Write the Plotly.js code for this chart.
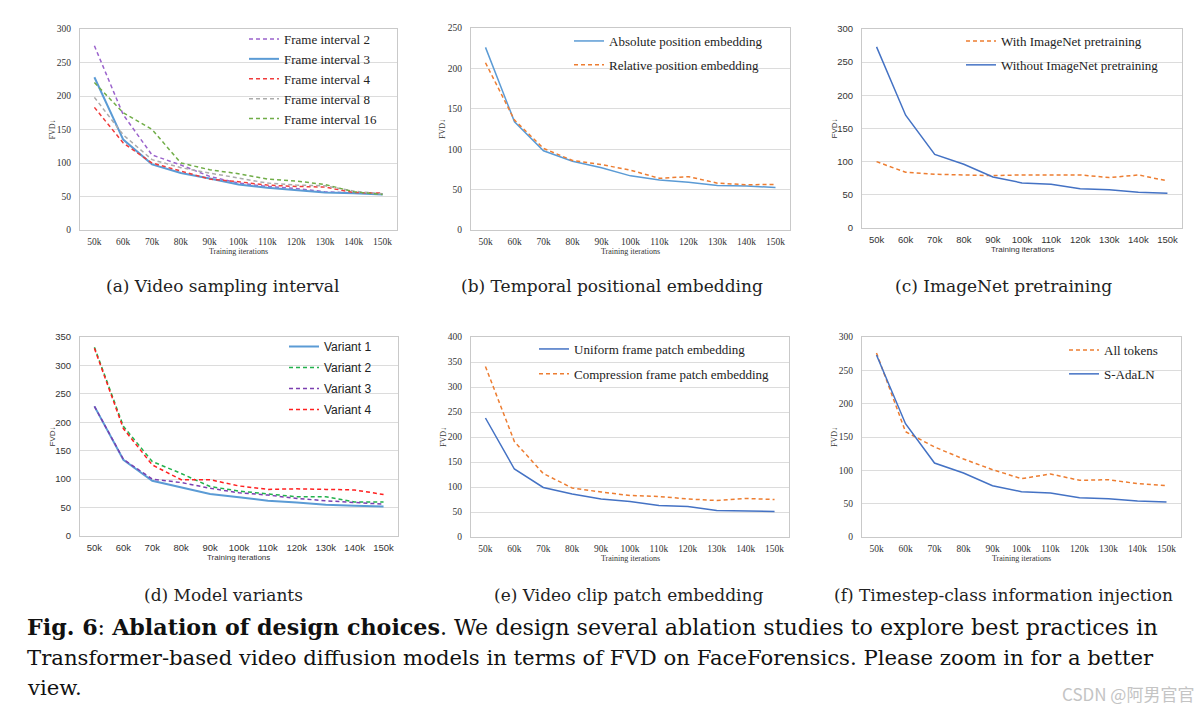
<!DOCTYPE html>
<html>
<head>
<meta charset="utf-8">
<script src="https://cdn.plot.ly/plotly-3.0.1.min.js"></script>
<style>html,body{margin:0;padding:0;background:#fff;}#chart{width:1203px;height:718px;}</style>
</head>
<body>
<div id="chart"></div>
<script>
// ---------- data ----------
const iterations = ['50k','60k','70k','80k','90k','100k','110k','120k','130k','140k','150k'];

// (a) Video sampling interval
const frameInterval2  = [275,172,112,97,80,70,65,62,57,56,54];
const frameInterval3  = [228,135,98,85,77,68,63,60,56,55,53];
const frameInterval4  = [183,130,100,88,76,72,67,65,64,56,55];
const frameInterval8  = [198,142,105,93,85,78,70,67,66,58,54];
const frameInterval16 = [220,175,150,100,90,84,76,73,68,57,53];

// (b) Temporal positional embedding
const absolutePos = [226,134,98,85,77,67,62,59,55,54.5,52.5];
const relativePos = [207,136,101,86,81,74,64,66,58,56,56.5];

// (c) ImageNet pretraining
const withImageNet    = [100,84,81,80,79,80,80,80,76,80,71];
const withoutImageNet = [273,170,111,96,77,68,66,59,57.5,54,52.5];

// (d) Model variants
const variant1 = [228,134,97,85,74,68,62,59,55,53,52];
const variant2 = [332,193,131,110,87,79,74,69,69,60,60];
const variant3 = [228,135,100,94,84,76,72,66,62,59,56];
const variant4 = [330,189,125,99,99,88,82,83,82,81,73];

// (e) Video clip patch embedding
const uniformPatch     = [238,136,99,86,76,71,63,61,53,52,51];
const compressionPatch = [341,191,127,98,90,83,81,76,73,77,75];

// (f) Timestep-class information injection
const allTokens = [276,158,135,117,101,87.5,94.5,85,86,80,77];
const sAdaLN    = [273,170,111,96,77,68,66,59,57.5,54,52.5];

const yMax = [300,250,300,350,400,300];
const subCaptions = ['(a) Video sampling interval','(b) Temporal positional embedding','(c) ImageNet pretraining',
                     '(d) Model variants','(e) Video clip patch embedding','(f) Timestep-class information injection'];

// ---------- layout helpers ----------
const W = 1203, H = 718;
const px = v => v / W;
const py = v => 1 - v / H;

// plot boxes in pixels [left,right,top,bottom]
const boxes = [
  [80,397,29,230],[471,790,28,230],[862,1182,29,228],
  [80,398,337,536],[471,789,337,537],[862,1181,337,537]
];
const capCenters = [222,612,1003,223,628,1003];
const serif = 'Liberation Serif, Times New Roman, serif';
const capSerif = 'DejaVu Serif, serif';
const sans = 'Liberation Sans, Arial, sans-serif';
const tickFonts = [serif,serif,sans,sans,serif,serif];

const DASH = '4px,3px';
const traces = [];
function addTrace(p, name, y, color, dash, width){
  const idx = p===0?'':String(p+1);
  traces.push({
    type:'scatter', mode:'lines', name:name, x:iterations, y:y,
    xaxis:'x'+idx, yaxis:'y'+idx, legend:'legend'+idx, legendgroup:name,
    line:{color:color, width:width||1.5, dash:dash?DASH:'solid'},
    hoverinfo:'skip'
  });
}
addTrace(0,'Frame interval 2',frameInterval2,'#9b63cc',true);
addTrace(0,'Frame interval 3',frameInterval3,'#5b9bd5',false,2);
addTrace(0,'Frame interval 4',frameInterval4,'#f03c3c',true);
addTrace(0,'Frame interval 8',frameInterval8,'#ababab',true);
addTrace(0,'Frame interval 16',frameInterval16,'#70ad47',true);

addTrace(1,'Absolute position embedding',absolutePos,'#5b9bd5',false);
addTrace(1,'Relative position embedding',relativePos,'#ed7d31',true);

addTrace(2,'With ImageNet pretraining',withImageNet,'#ed7d31',true);
addTrace(2,'Without ImageNet pretraining',withoutImageNet,'#4472c4',false);

addTrace(3,'Variant 1',variant1,'#5b9bd5',false,2);
addTrace(3,'Variant 2',variant2,'#22b14c',true);
addTrace(3,'Variant 3',variant3,'#7b3fb0',true);
addTrace(3,'Variant 4',variant4,'#ff2020',true);

addTrace(4,'Uniform frame patch embedding',uniformPatch,'#4472c4',false);
addTrace(4,'Compression frame patch embedding',compressionPatch,'#ed7d31',true);

addTrace(5,'All tokens',allTokens,'#ed7d31',true);
addTrace(5,'S-AdaLN',sAdaLN,'#4472c4',false);

const layout = {
  width:W, height:H, margin:{l:0,r:0,t:0,b:0},
  paper_bgcolor:'#fff', plot_bgcolor:'#fff', showlegend:true,
  annotations:[], shapes:[]
};

// legend positions [left px, top px, font, size, gap]
const legendPos = [
  [244,24,serif,13,0],[569,26,serif,13,4],[961,26,serif,13,4],
  [284,332,sans,12,2],[534,334,serif,13,5],[1064,335,serif,13,4]
];

for(let p=0;p<6;p++){
  const idx = p===0?'':String(p+1);
  const [l,r,t,b] = boxes[p];
  layout['xaxis'+idx] = {
    domain:[px(l),px(r)], anchor:'y'+idx, type:'category', range:[-0.5,10.5],
    showgrid:false, showline:true, linecolor:'#c9c9c9', linewidth:1, mirror:true,
    ticks:'', tickfont:{family:tickFonts[p], size:9.5, color:'#333'}, ticklabelstandoff:3,
    fixedrange:true
  };
  layout['yaxis'+idx] = {
    domain:[py(b),py(t)], anchor:'x'+idx, range:[0,yMax[p]], dtick:50,
    showgrid:true, gridcolor:'#dcdcdc', gridwidth:1, zeroline:false,
    showline:true, linecolor:'#c9c9c9', linewidth:1, mirror:true,
    ticks:'', tickfont:{family:tickFonts[p], size:9.5, color:'#333'}, ticklabelstandoff:6,
    fixedrange:true
  };
  const lp = legendPos[p];
  layout['legend'+idx] = {
    x:px(lp[0]), y:py(lp[1]), xanchor:'left', yanchor:'top',
    bgcolor:'rgba(0,0,0,0)', borderwidth:0,
    font:{family:lp[2], size:lp[3], color:'#222'},
    traceorder:'grouped', tracegroupgap:lp[4], itemclick:false, itemdoubleclick:false
  };
  // axis titles
  layout.annotations.push({
    xref:'paper', yref:'paper', x:px((l+r)/2), y:py(b+21), text:'Training iterations',
    showarrow:false, font:{family:tickFonts[p], size:8, color:'#333'}, xanchor:'center', yanchor:'middle'
  });
  layout.annotations.push({
    xref:'paper', yref:'paper', x:px(l-28), y:py((t+b)/2), text:'FVD↓', textangle:-90,
    showarrow:false, font:{family:tickFonts[p], size:8, color:'#333'}, xanchor:'center', yanchor:'middle'
  });
  // sub captions
  const capY = p<3 ? 286 : 595;
  layout.annotations.push({
    xref:'paper', yref:'paper', x:px(capCenters[p]), y:py(capY), text:subCaptions[p],
    showarrow:false, font:{family:capSerif, size:17, color:'#222'}, xanchor:'center', yanchor:'middle'
  });
}

// figure caption
const captionLines = [
  '<b>Fig. 6</b>: <b>Ablation of design choices</b>. We design several ablation studies to explore best practices in',
  'Transformer-based video diffusion models in terms of FVD on FaceForensics. Please zoom in for a better',
  'view.'
];
const captionSizes = [22.2, 21.2, 21.2];
captionLines.forEach((txt,i)=>{
  layout.annotations.push({
    xref:'paper', yref:'paper', x:px(25), y:py(627+30*i), text:txt,
    showarrow:false, font:{family:capSerif, size:captionSizes[i], color:'#111'}, xanchor:'left', yanchor:'middle'
  });
});
layout.annotations.push({
  xref:'paper', yref:'paper', x:px(1196), y:py(693), text:'CSDN @阿男官官',
  showarrow:false, font:{family:'Noto Sans CJK SC, sans-serif', size:17, color:'#c4c4c4'}, xanchor:'right', yanchor:'middle'
});

Plotly.newPlot('chart', traces, layout, {staticPlot:true, displayModeBar:false});
</script>
</body>
</html>
